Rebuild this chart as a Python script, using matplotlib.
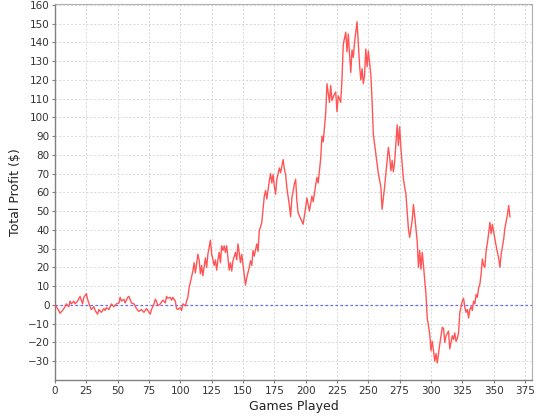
import matplotlib
matplotlib.use("Agg")
import matplotlib.pyplot as plt

games = [0, 3, 4, 6, 8, 9, 11, 12, 13, 15, 16, 18, 20, 22, 23, 25, 26, 28, 29, 31,
         32, 34, 35, 37, 39, 40, 41, 43, 45, 47, 49, 51, 52, 53, 55, 56, 58, 59, 61, 63,
         65, 67, 69, 71, 73, 74, 76, 77, 79, 80, 81, 82, 84, 86, 88, 89, 90, 92, 93, 94,
         96, 97, 98, 100, 101, 102, 104, 105, 106, 107, 108, 110, 111, 112, 114, 115, 116, 117, 118, 120,
         121, 122, 124, 125, 127, 128, 129, 130, 131, 132, 133, 134, 135, 136, 137, 138, 139, 140, 141, 142,
         144, 145, 146, 148, 149, 150, 152, 153, 155, 156, 157, 158, 159, 161, 162, 163, 165, 166, 167, 168,
         169, 171, 172, 173, 174, 175, 176, 177, 179, 180, 182, 183, 184, 185, 187, 188, 189, 191, 192, 193,
         194, 196, 198, 200, 201, 203, 205, 206, 208, 209, 210, 212, 213, 214, 216, 217, 219, 220, 221, 223,
         224, 225, 226, 228, 229, 230, 232, 233, 234, 235, 236, 237, 238, 239, 241, 242, 243, 244, 245, 246,
         247, 248, 249, 250, 252, 253, 254, 256, 258, 260, 261, 263, 266, 267, 268, 269, 270, 271, 273, 274,
         275, 276, 278, 280, 281, 282, 283, 285, 286, 287, 289, 290, 291, 292, 293, 294, 296, 297, 299, 300,
         301, 302, 303, 304, 305, 306, 307, 309, 310, 311, 312, 314, 315, 317, 318, 319, 320, 321, 322, 323,
         325, 326, 327, 328, 329, 330, 331, 332, 333, 334, 335, 336, 337, 338, 339, 340, 341, 342, 343, 344,
         345, 346, 347, 348, 349, 351, 353, 354, 355, 356, 358, 359, 361, 362, 363]

profit = [0, -3, -4.5, -3, -1, 0.5, -1, 2, 0.5, 2, 0.5, 2, 4.5, 0.5, 4, 6, 3, -1, -2.5, -1,
          -3, -5, -2.5, -4, -2, -3, -1.5, -2.5, 0.5, -1, 0.5, 1, 4, 2, 3, 1, 4, 4.5, 1, 0.5,
          -2, -3.5, -2.5, -4, -2, -3, -5, -2.5, 0.5, 3, 2, -0.5, 0.5, 2.5, 1, 4.5, 3.5, 4, 2.5, 4,
          2, -2, -2.5, -1.5, -3, 0.5, -0.5, 2, 4, 9, 12, 18, 22.5, 17, 27, 24, 16.5, 21, 15.5, 25,
          20, 27, 34.5, 27, 21, 24, 18.5, 24, 28, 22.5, 31.5, 29, 31.5, 28, 31.5, 25, 18.5, 22.5, 18, 23.5,
          28, 24, 32.5, 22.5, 27, 21.5, 10.5, 14.5, 20, 23.5, 21, 29, 26, 32.5, 28.5, 39.5, 44, 51, 58, 61,
          56.5, 66, 70, 65, 69.5, 63.5, 59, 67, 73, 70.5, 77.5, 72.5, 69.5, 62.5, 53, 47, 57, 64.5, 67, 55.5,
          49, 46, 43, 52, 57, 50, 58, 55, 64, 68, 65, 78, 90, 87, 102, 118, 108, 117, 109, 112.5,
          113.5, 103, 111.5, 108, 120.5, 139, 145.5, 135, 144.5, 134, 124, 136, 132, 140, 151, 139, 128, 120, 126, 118,
          122.5, 136.5, 127, 135.5, 123, 109, 91, 80.5, 70, 63, 51, 63, 84, 79, 71.5, 77, 71, 76, 96, 85,
          95, 83.5, 67, 59, 49.5, 40.5, 36, 45, 53.5, 47.5, 34, 20, 29, 19, 28, 21, 5.5, -7, -15.5, -24.5,
          -19.5, -24.5, -30, -26, -31, -26, -21, -12, -12.5, -20, -16.5, -14, -23.5, -16.5, -18.5, -15, -19.5, -18, -15, -4,
          2, 3.5, -1.5, -4, -2.5, -7, -2.5, -1, -3, 2, 0.5, 5.5, 4, 9, 11, 16.5, 24.5, 21, 20, 29,
          33, 38, 44, 38, 43, 35, 28, 25, 20, 27, 35, 41, 48, 53, 47]

x_ticks = list(range(0, 376, 25))
y_ticks = list(range(-30, 161, 10))

plt.rcParams['font.family'] = ['DejaVu Sans']
fig = plt.figure(figsize=(5.4, 4.2), dpi=100)
ax = fig.add_axes([55 / 540, 1 - 380 / 420, (532 - 55) / 540, (380 - 4) / 420])

ax.plot(games, profit, color='#ff5555', lw=1.0, zorder=3)
ax.axhline(0, color='#6a6aff', lw=0.9, ls=(0, (2, 2)), zorder=2)

ax.set_xlim(0, 380.6)
ax.set_ylim(-40.1, 160.5)
ax.set_xticks(x_ticks)
ax.set_yticks(y_ticks)
ax.grid(True, color='#d8d8d8', lw=0.7, ls=(0, (2, 2)))
ax.set_axisbelow(True)

for s in ['top', 'right']:
    ax.spines[s].set_color('#b0b0b0')
    ax.spines[s].set_linewidth(0.8)
for s in ['left', 'bottom']:
    ax.spines[s].set_color('#808080')
    ax.spines[s].set_linewidth(1.0)

ax.tick_params(axis='both', direction='out', length=2, width=0.8, color='#808080',
               labelsize=7.5, labelcolor='#333333', pad=2)

ax.set_xlabel('Games Played', fontsize=9, color='#222222', labelpad=3)
ax.set_ylabel('Total Profit ($)', fontsize=9, color='#222222', labelpad=4)

fig.savefig('out.png', dpi=100, facecolor='white')
